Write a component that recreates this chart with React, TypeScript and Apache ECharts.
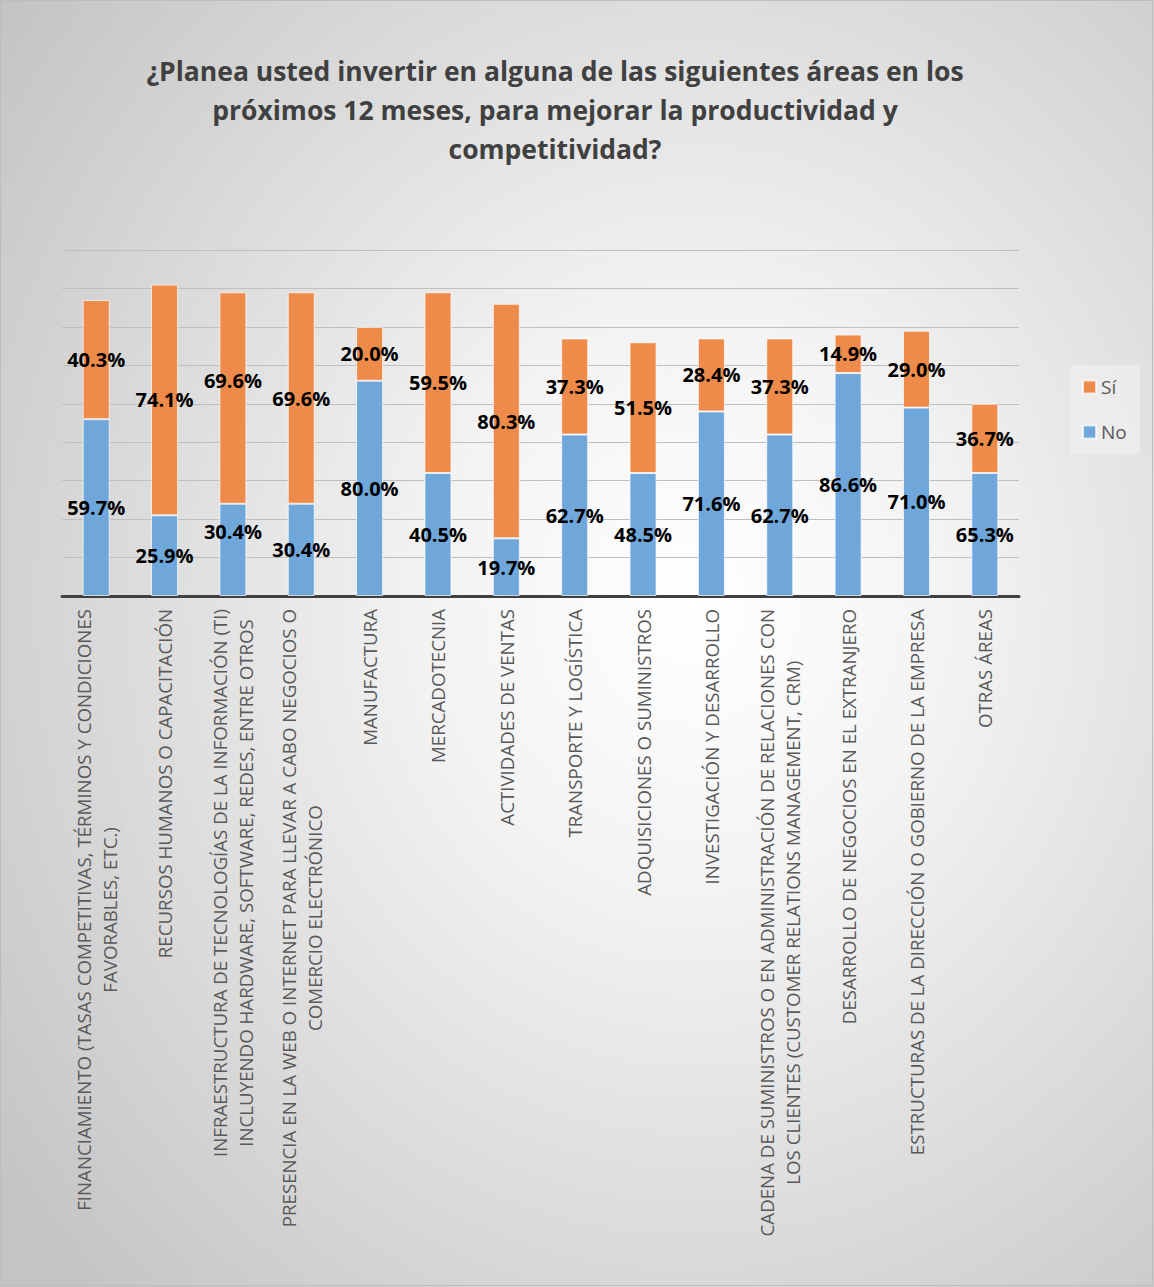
import React, { useEffect, useRef } from "react";
import * as echarts from "echarts";

const titleText =
  "¿Planea usted invertir en alguna de las siguientes áreas en los\npróximos 12 meses, para mejorar la productividad y\ncompetitividad?";

const categories = [
  "FINANCIAMIENTO (TASAS COMPETITIVAS, TÉRMINOS Y CONDICIONES\nFAVORABLES, ETC.)",
  "RECURSOS HUMANOS O CAPACITACIÓN",
  "INFRAESTRUCTURA DE TECNOLOGÍAS DE LA INFORMACIÓN (TI)\nINCLUYENDO HARDWARE, SOFTWARE, REDES, ENTRE OTROS",
  "PRESENCIA EN LA WEB O INTERNET PARA LLEVAR A CABO NEGOCIOS O\nCOMERCIO ELECTRÓNICO",
  "MANUFACTURA",
  "MERCADOTECNIA",
  "ACTIVIDADES DE VENTAS",
  "TRANSPORTE Y LOGÍSTICA",
  "ADQUISICIONES O SUMINISTROS",
  "INVESTIGACIÓN Y DESARROLLO",
  "CADENA DE SUMINISTROS O EN ADMINISTRACIÓN DE RELACIONES CON\nLOS CLIENTES (CUSTOMER RELATIONS MANAGEMENT, CRM)",
  "DESARROLLO DE NEGOCIOS EN EL EXTRANJERO",
  "ESTRUCTURAS DE LA DIRECCIÓN O GOBIERNO DE LA EMPRESA",
  "OTRAS ÁREAS",
];

const seriesNames = ["No", "Sí"];

const noCounts = [46, 21, 24, 24, 56, 32, 15, 42, 32, 48, 42, 58, 49, 32];
const siCounts = [31, 60, 55, 55, 14, 47, 61, 25, 34, 19, 25, 10, 20, 18];

const noLabels = [
  "59.7%", "25.9%", "30.4%", "30.4%", "80.0%", "40.5%", "19.7%",
  "62.7%", "48.5%", "71.6%", "62.7%", "86.6%", "71.0%", "65.3%",
];
const siLabels = [
  "40.3%", "74.1%", "69.6%", "69.6%", "20.0%", "59.5%", "80.3%",
  "37.3%", "51.5%", "28.4%", "37.3%", "14.9%", "29.0%", "36.7%",
];

const yMin = 0;
const yMax = 90;
const yInterval = 10;

// style constants
const FONT = "'Open Sans', 'DejaVu Sans', sans-serif";
const ORANGE = "#EE8B4A";
const BLUE = "#6FA7DB";
const SHIFTED_LABEL_INDEX = 2;
const SHIFT_Y = -18;
const CAT_FONT_SIZE = 18.7;

function buildData(values: number[]) {
  return values.map((v, i) =>
    i === SHIFTED_LABEL_INDEX
      ? { value: v, label: { offset: [0, SHIFT_Y] } }
      : { value: v }
  );
}

const labelStyle = {
  show: true,
  position: "inside",
  color: "#000000",
  fontFamily: FONT,
  fontWeight: "bold",
  fontSize: 20,
  textBorderWidth: 0,
};

export default function App() {
  const ref = useRef<HTMLDivElement>(null);

  useEffect(() => {
    if (!ref.current) return;
    const chart = echarts.init(ref.current, null, { renderer: "svg" });
    const option: any = {
      animation: false,
      backgroundColor: new echarts.graphic.RadialGradient(0.6, 0.47, 0.75, [
        { offset: 0, color: "#ffffff" },
        { offset: 0.3, color: "#f3f3f3" },
        { offset: 1, color: "#c4c4c4" },
      ]),
      title: {
        text: titleText,
        left: 550,
        top: 46,
        textAlign: "center",
        textStyle: {
          fontFamily: FONT,
          fontWeight: "bold",
          fontSize: 26.5,
          lineHeight: 39,
          color: "#404040",
        },
      },
      legend: {
        data: ["Sí", "No"],
        orient: "vertical",
        left: 1070,
        top: 365,
        padding: [12, 13, 12, 12],
        backgroundColor: "rgba(240,240,240,0.7)",
        itemWidth: 13,
        itemHeight: 13,
        itemGap: 25,
        icon: "rect",
        textStyle: {
          fontFamily: FONT,
          fontSize: 19,
          lineHeight: 20,
          color: "#595959",
        },
      },
      grid: {
        left: 62,
        right: 135,
        top: 250,
        bottom: 691,
        outerBoundsMode: "none",
      },
      xAxis: {
        type: "category",
        data: categories,
        axisLine: { show: true, lineStyle: { color: "#404040", width: 3 } },
        axisTick: { show: false },
        axisLabel: {
          interval: 0,
          rotate: 90,
          margin: 13,
          color: "#595959",
          fontFamily: FONT,
          fontSize: CAT_FONT_SIZE,
          lineHeight: 26,
          formatter: (v: string) =>
            v
              .split("\n")
              .map((l) => "{c|" + l + "}")
              .join("\n"),
          rich: {
            c: {
              align: "center",
              color: "#595959",
              fontFamily: FONT,
              fontSize: CAT_FONT_SIZE,
              lineHeight: 26,
            },
          },
        },
      },
      yAxis: {
        type: "value",
        min: yMin,
        max: yMax,
        interval: yInterval,
        axisLabel: { show: false },
        axisLine: { show: false },
        axisTick: { show: false },
        splitLine: { lineStyle: { color: "#bfbfbf", width: 1 } },
      },
      series: [
        {
          name: seriesNames[0],
          type: "bar",
          stack: "total",
          barWidth: 27,
          data: buildData(noCounts),
          itemStyle: {
            color: BLUE,
            borderColor: "rgba(255,255,255,0.7)",
            borderWidth: 1,
          },
          label: {
            ...labelStyle,
            formatter: (p: any) => noLabels[p.dataIndex],
          },
        },
        {
          name: seriesNames[1],
          type: "bar",
          stack: "total",
          barWidth: 27,
          data: buildData(siCounts),
          itemStyle: {
            color: ORANGE,
            borderColor: "rgba(255,255,255,0.7)",
            borderWidth: 1,
          },
          label: {
            ...labelStyle,
            formatter: (p: any) => siLabels[p.dataIndex],
          },
        },
      ],
      graphic: [
        {
          type: "rect",
          shape: { x: 0.5, y: 0.5, width: 1152, height: 1285 },
          style: { fill: "none", stroke: "#bdbdbd", lineWidth: 1 },
          silent: true,
        },
      ],
    };
    chart.setOption(option);
    return () => chart.dispose();
  }, []);

  return (
    <div
      ref={ref}
      style={{ position: "absolute", left: 0, top: 0, width: 1154, height: 1287 }}
    />
  );
}
